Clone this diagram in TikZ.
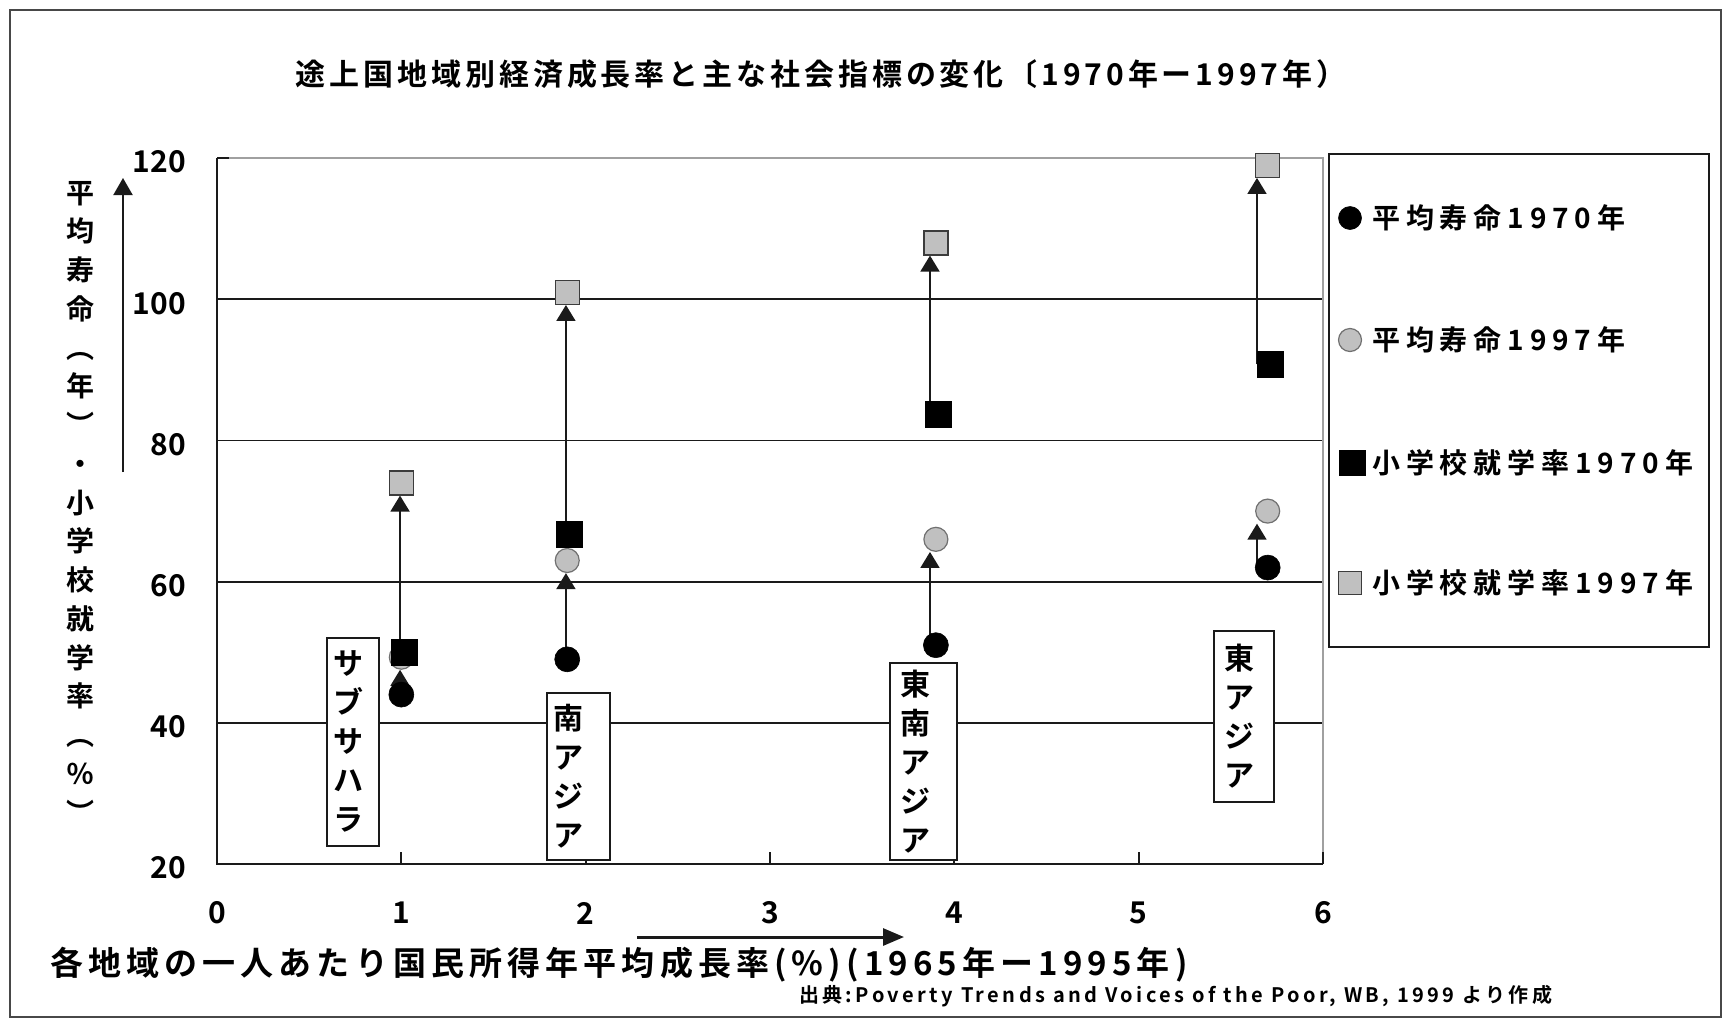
\documentclass[tikz,border=0pt]{standalone}
\usepackage{fontspec}
\newfontfamily\jp{Noto Sans CJK JP}[BoldFont={Noto Sans CJK JP Bold}]
\usetikzlibrary{arrows.meta}
\pgfdeclarelayer{back}
\pgfsetlayers{back,main}
\definecolor{mkgray}{HTML}{C0C0C0}
\definecolor{mkedge}{HTML}{707070}
\definecolor{framegray}{HTML}{A0A0A0}
\definecolor{ink}{HTML}{1A1A1A}
\tikzset{
  every node/.style={font=\jp\bfseries, text=black},
  lec/.style={circle, fill=black, draw=black, line width=0.6pt, inner sep=0pt, minimum size=25pt},
  lecb/.style={circle, fill=mkgray, draw=mkedge, line width=1.2pt, inner sep=0pt, minimum size=24pt},
  sqa/.style={rectangle, fill=black, draw=black, line width=0.6pt, inner sep=0pt, minimum size=26pt},
  sqb/.style={rectangle, fill=mkgray, draw=ink!85, line width=1.4pt, inner sep=0pt, minimum size=24pt},
  chg/.style={draw=ink, line width=1.8pt, -{Triangle[width=19pt,length=16pt]}},
  gridln/.style={draw=ink, line width=1.8pt},
  axisln/.style={draw=ink, line width=1.9pt},
  bordln/.style={draw=framegray, line width=1.8pt},
  ticklab/.style={font=\jp\bfseries\fontsize{30}{30}\selectfont, inner sep=0pt},
  rbox/.style={draw=ink, line width=1.6pt, fill=white, align=left, inner ysep=0pt,
    font=\jp\bfseries\fontsize{30}{39}\selectfont, anchor=north west},
  legtxt/.style={anchor=west, inner sep=0pt,
    font=\jp\bfseries\fontsize{28}{28}\selectfont\addfontfeatures{LetterSpace=21}},
}
\begin{document}
\begin{tikzpicture}[x=1pt,y=-1pt]
\useasboundingbox (0,0) rectangle (1729,1023);
\begin{pgfonlayer}{back}
  \fill[white] (0,0) rectangle (1729,1023);
\end{pgfonlayer}
\draw[draw=ink!80, line width=2pt] (10,10) rectangle (1721,1017);

% title
\node[inner sep=0pt, font=\jp\bfseries\fontsize{30}{30}\selectfont\addfontfeatures{LetterSpace=13}]
  (title) at (821,74) {途上国地域別経済成長率と主な社会指標の変化〔1970年ー1997年）};

% plot
\begin{scope}[x=184.33pt, y=7.0583pt, shift={(217pt,-1005.17pt)}]
  % markers: life expectancy 1970
  \node[lec] (ssaL70) at (1.0,44) {};
  \node[lec] (saL70)  at (1.9,49) {};
  \node[lec] (seaL70) at (3.9,51) {};
  \node[lec] (eaL70)  at (5.7,62) {};
  % life expectancy 1997
  \node[lecb] (ssaL97) at (1.0,49.3) {};
  \node[lecb] (saL97)  at (1.9,63) {};
  \node[lecb] (seaL97) at (3.9,66) {};
  \node[lecb] (eaL97)  at (5.7,70) {};
  % school enrolment 1970
  \node[sqa, xshift=2.5pt] (ssaS70) at (1.0,50) {};
  \node[sqa, xshift=2.5pt] (saS70)  at (1.9,66.7) {};
  \node[sqa, xshift=2.5pt] (seaS70) at (3.9,83.7) {};
  \node[sqa, xshift=2.5pt] (eaS70)  at (5.7,90.8) {};
  % school enrolment 1997
  \node[sqb] (ssaS97) at (1.0,74) {};
  \node[sqb] (saS97)  at (1.9,101) {};
  \node[sqb] (seaS97) at (3.9,108) {};
  \node[sqb] (eaS97)  at (5.7,119) {};

  \coordinate (ssaA) at (0.993,0);
  \coordinate (saA)  at (1.893,0);
  \coordinate (seaA) at (3.868,0);
  \coordinate (eaA)  at (5.642,0);

  % tick labels
  \foreach \v in {20,40,60,80,100,120}
    \node[ticklab, anchor=east] at ([xshift=-31pt,yshift=-4pt]0,\v) {\v};
  \foreach \i in {0,...,6}
    \node[ticklab] at ([yshift=-49pt]\i,20) {\i};

  \begin{pgfonlayer}{back}
    \foreach \v in {40,60,80,100}
      \draw[gridln] (0,\v) -- (6,\v);
    \draw[bordln] (0,120) -- (6,120) -- (6,20);
    \draw[axisln] (0,120) -- (0,20) -- (6,20);
    \draw[axisln] (0,120) -- ++(12pt,0pt);
    \foreach \i in {1,...,6}
      \draw[axisln] (\i,20) -- ++(0pt,12pt);
    % change arrows
    \draw[chg] (ssaL70.center -| ssaA) -- (ssaL97.south -| ssaA);
    \draw[chg] (ssaS70.center -| ssaA) -- (ssaS97.south -| ssaA);
    \draw[chg] (saL70.center -| saA) -- (saL97.south -| saA);
    \draw[chg] (saS70.center -| saA) -- (saS97.south -| saA);
    \draw[chg] (seaL70.center -| seaA) -- (seaL97.south -| seaA);
    \draw[chg] (seaS70.center -| seaA) -- (seaS97.south -| seaA);
    \draw[chg] (eaL70.center -| eaA) -- (eaL97.south -| eaA);
    \draw[chg] (eaS70.center -| eaA) -- (eaS97.south -| eaA);
  \end{pgfonlayer}
\end{scope}

% region labels
\node[rbox, minimum width=52pt, minimum height=208pt, text width=38pt, inner xsep=7pt]
  (ssa) at (326,637) {サ\\ブ\\サ\\ハ\\ラ};
\node[rbox, minimum width=63pt, minimum height=167pt, text width=49pt, inner xsep=7pt]
  (sa) at (546,692) {南\\ア\\ジ\\ア};
\node[rbox, minimum width=67pt, minimum height=197pt, text width=45pt, inner xsep=11pt]
  (sea) at (889,662) {東\\南\\ア\\ジ\\ア};
\node[rbox, minimum width=60pt, minimum height=171pt, text width=38pt, inner xsep=11pt]
  (ea) at (1213,630) {東\\ア\\ジ\\ア};

% y axis title and arrow
\node[inner sep=0pt, align=center, font=\jp\bfseries\fontsize{28}{38.75}\selectfont]
  (ytitle) at (80,502) {平\\均\\寿\\命\\︵\\年\\︶\\・\\小\\学\\校\\就\\学\\率\\︵\\％\\︶};
\coordinate (ya0) at (123,472);
\coordinate (ya1) at (123,178);
\draw[draw=ink, line width=2pt, -{Triangle[width=19pt,length=17pt]}] (ya0) -- (ya1);

% x axis title and arrow
\coordinate (xa0) at (637,937);
\coordinate (xa1) at (904,937);
\draw[draw=ink, line width=3pt, -{Triangle[width=17pt,length=21pt]}] (xa0) -- (xa1);
\node[anchor=west, inner sep=0pt, font=\jp\bfseries\fontsize{33}{33}\selectfont\addfontfeatures{LetterSpace=15.5}]
  (xtitle) at (50,965) {各地域の一人あたり国民所得年平均成長率(\%)(1965年ー1995年)};

% source
\node[anchor=west, inner sep=0pt, font=\jp\bfseries\fontsize{20}{20}\selectfont\addfontfeatures{LetterSpace=17}]
  (src) at (799,996) {出典:Poverty Trends and Voices of the Poor, WB, 1999 より作成};

% legend
\node[draw=ink, line width=2pt, minimum width=380pt, minimum height=493pt, anchor=north west, inner sep=0pt]
  (legend) at (1328,153) {};
\node[lec, minimum size=23pt] (lg1) at (1350,218) {};
\node[lecb, minimum size=23pt] (lg2) at (1350,340) {};
\node[sqa, minimum width=26pt, minimum height=25pt] (lg3) at (1352,463) {};
\node[sqb, minimum size=23pt] (lg4) at (1350,583) {};
\node[legtxt] (lt1) at (1372,218) {平均寿命1970年};
\node[legtxt] (lt2) at (1372,340) {平均寿命1997年};
\node[legtxt] (lt3) at (1372,463) {小学校就学率1970年};
\node[legtxt] (lt4) at (1372,583) {小学校就学率1997年};
\end{tikzpicture}
\end{document}
